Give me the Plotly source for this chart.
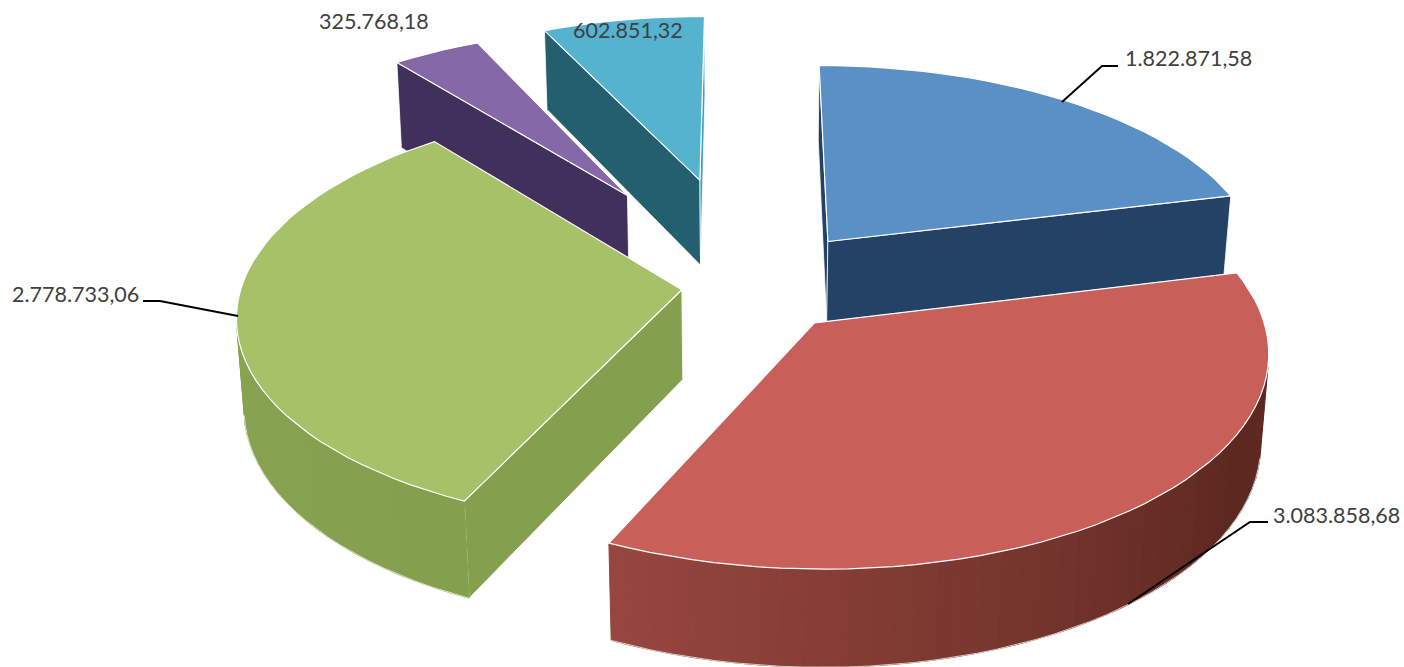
import math
import plotly.graph_objects as go

# Data
categories = ["A", "B", "C", "D", "E"]
values = [1822871.58, 3083858.68, 2778733.06, 325768.18, 602851.32]
value_labels = ["1.822.871,58", "3.083.858,68", "2.778.733,06", "325.768,18", "602.851,32"]

# Style and layout
top_colors = ["#5A90C6", "#C85F58", "#A6C167", "#8568A8", "#55B3CF"]
first_cut_colors = ["#234266", "#7A3A34", "#84A04E", "#41305C", "#235F6E"]
last_cut_colors = ["#234266", "#7A3A34", "#84A04E", "#41305C", "#3CA0B8"]
side_start = ["#234266", "#98473F", "#8BA553", "#41305C", "#3CA0B8"]
side_end = ["#234266", "#5C2820", "#84A04E", "#41305C", "#3CA0B8"]
explode_xy = [(85, 95), (68, -79), (-63, -10), (-124, 201), (-48, 237)]
slice_height = [83, 90, 91, 96, 90]
draw_order = [4, 3, 0, 2, 1]
label_pos = [(1123, 58), (1271, 515), (10, 294), (317, 21), (571, 30)]
leaders = [
    ([1062, 1102, 1118], [102, 66, 66]),
    ([1128, 1250, 1268], [604, 522, 522]),
    ([238, 160, 143], [316, 301, 301]),
]

X0, Y0 = 745.0, 285.0
R, TILT, PERSP, DEPTH_PERSP = 440.0, 0.47, 0.12, 0.015


def project(x, y, z=0.0, h=85.0):
    w = 1 + PERSP * y / R + DEPTH_PERSP * z
    return X0 + x / w, Y0 + (-TILT * y + h * z) / w


def area(pts):
    s = 0.0
    for i in range(len(pts)):
        a, b = pts[i], pts[(i + 1) % len(pts)]
        s += a[0] * b[1] - b[0] * a[1]
    return s


def mix(c1, c2, t):
    a = [int(c1[i:i + 2], 16) for i in (1, 3, 5)]
    b = [int(c2[i:i + 2], 16) for i in (1, 3, 5)]
    return "#%02x%02x%02x" % tuple(round(p + (q - p) * t) for p, q in zip(a, b))


def quad(p, q, h):
    return [project(*p, 0, h), project(*q, 0, h), project(*q, 1, h), project(*p, 1, h)]


fig = go.Figure()


def poly(pts, fill, line=None, width=1.0):
    xs = [p[0] for p in pts] + [pts[0][0]]
    ys = [p[1] for p in pts] + [pts[0][1]]
    fig.add_trace(go.Scatter(x=xs, y=ys, mode="lines", fill="toself", fillcolor=fill,
                             line=dict(color=line or fill, width=width), hoverinfo="skip",
                             showlegend=False))


def stroke(pts, color="#ffffff", width=1.0):
    fig.add_trace(go.Scatter(x=[p[0] for p in pts], y=[p[1] for p in pts], mode="lines",
                             line=dict(color=color, width=width), hoverinfo="skip",
                             showlegend=False))


total = sum(values)
starts, acc = [], 0.0
for v in values:
    starts.append(acc / total * 2 * math.pi)
    acc += v

for i in draw_order:
    a0 = starts[i]
    a1 = a0 + values[i] / total * 2 * math.pi
    ex, ey = explode_xy[i]
    h = slice_height[i]
    n = max(4, int((a1 - a0) / math.radians(2.5)))
    rim = [(ex + R * math.sin(a0 + (a1 - a0) * k / n), ey + R * math.cos(a0 + (a1 - a0) * k / n))
           for k in range(n + 1)]
    apex = (ex, ey)

    # flat cut faces, only where they face the viewer
    for a, b, col in ((apex, rim[0], first_cut_colors[i]), (rim[-1], apex, last_cut_colors[i])):
        q = quad(a, b, h)
        if area(q) < 0:
            poly(q, col, "#ffffff", 0.8)

    # curved outer wall
    bottom = []
    bottom_last = None
    for k in range(n):
        q = quad(rim[k], rim[k + 1], h)
        if area(q) < 0:
            col = mix(side_start[i], side_end[i], min(1.0, abs(k / n - 1) * 1.5)) if i == 1 else \
                mix(side_end[i], side_start[i], k / n)
            poly(q, col)
            bottom.append(q[3])
            bottom_last = q[2]
    if bottom:
        stroke(bottom + [bottom_last], "#f4f1ea", 0.8)

    # top face
    top = [project(*apex)] + [project(*p) for p in rim]
    poly(top, top_colors[i], "#ffffff", 1.2)

for xs, ys in leaders:
    stroke(list(zip(xs, ys)), "#000000", 2)

for text, (x, y) in zip(value_labels, label_pos):
    fig.add_annotation(x=x, y=y, text=text, showarrow=False, xanchor="left", yanchor="middle",
                       font=dict(family="Lato, Carlito, sans-serif", size=21.5, color="#404040"))

fig.update_layout(width=1404, height=667, margin=dict(l=0, r=0, t=0, b=0),
                  paper_bgcolor="#ffffff", plot_bgcolor="#ffffff", showlegend=False,
                  xaxis=dict(range=[0, 1404], visible=False, fixedrange=True),
                  yaxis=dict(range=[667, 0], visible=False, fixedrange=True))

fig.write_html("out.html", config={"displayModeBar": False},
               post_script="document.body.style.margin='0';")
